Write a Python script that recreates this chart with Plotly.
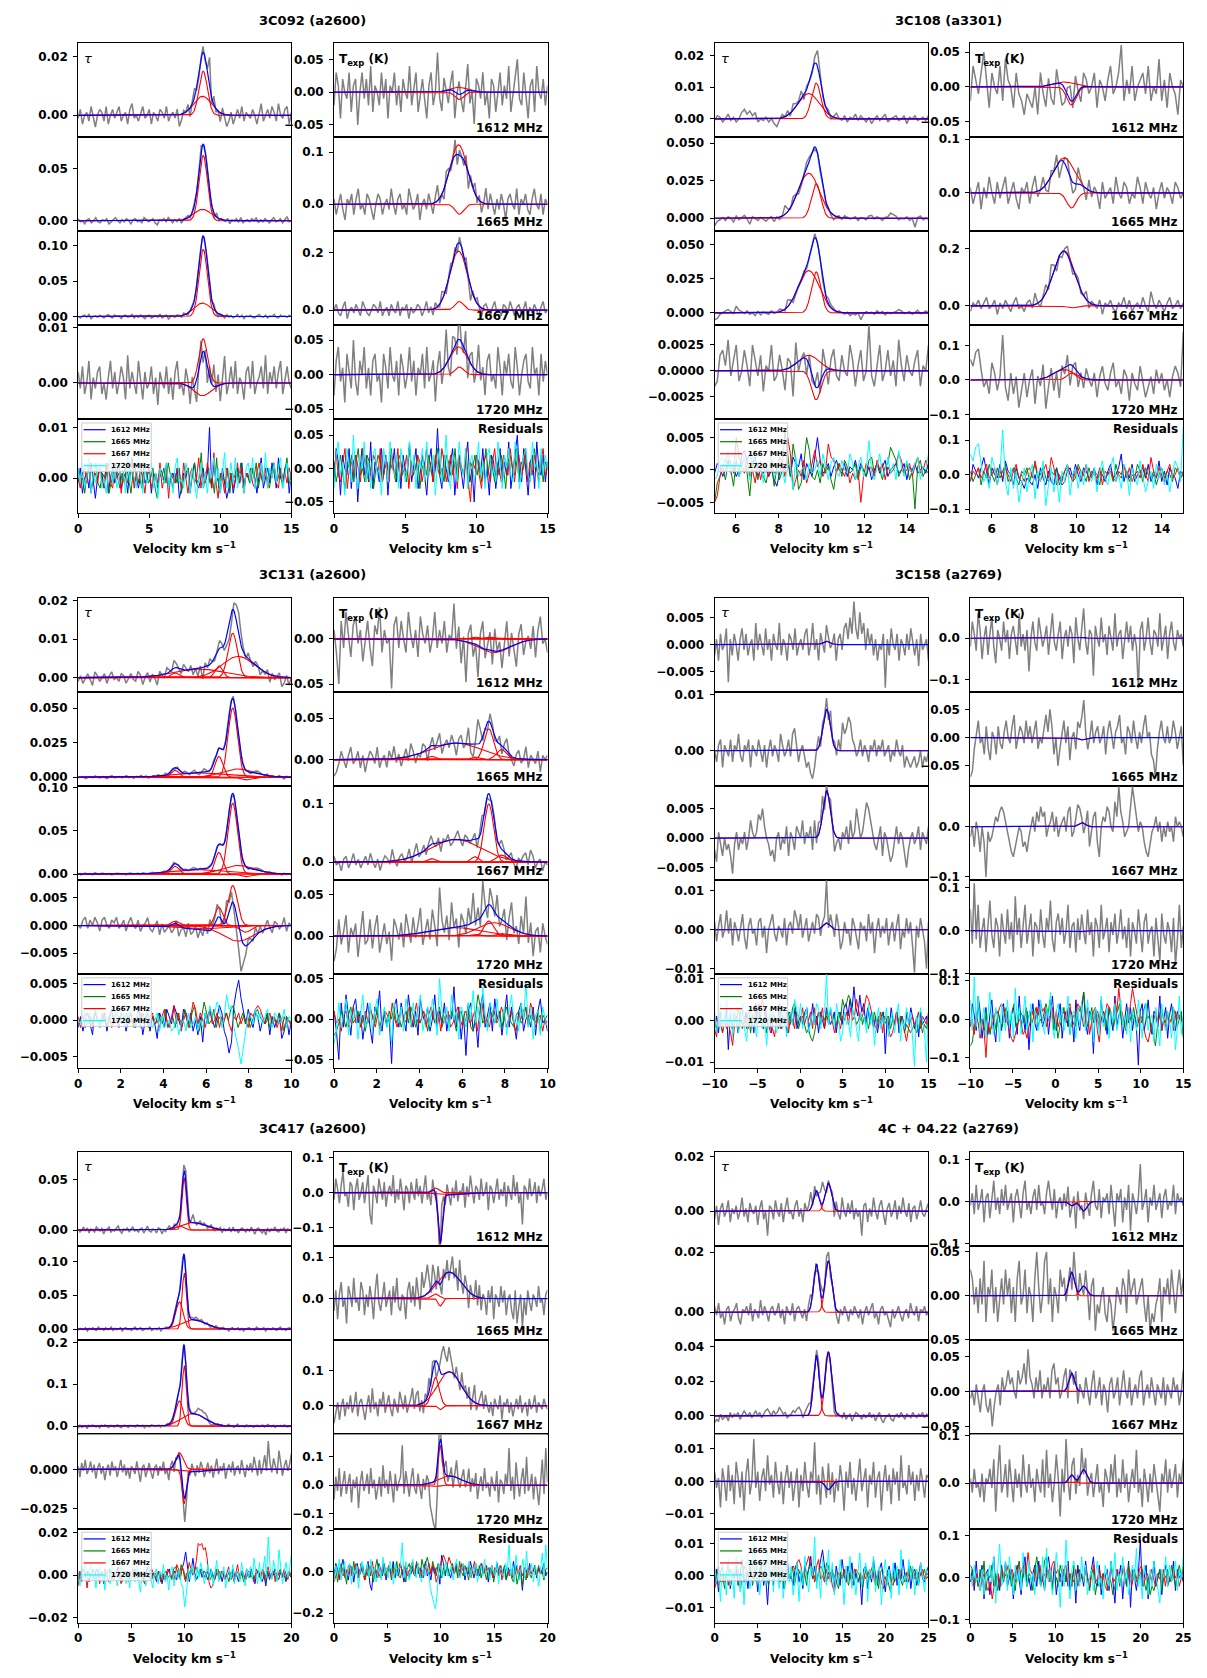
import numpy as np
import plotly.graph_objects as go

FREQS = ["1612", "1665", "1667", "1720"]
RES_COLOURS = ["blue", "green", "red", "cyan"]

# ---------------- 3C092 (a2600) ----------------
S092_NAME = "3C092 (a2600)"
S092_VRANGE = [0, 15]
S092_VTICKS = [0, 5, 10, 15]
S092_CENTRE = [8.8, 8.75]
S092_WIDTH = [0.30, 0.62]
S092_TAU_AMP = [[0.0150, 0.0065], [0.063, 0.011], [0.095, 0.019], [0.0080, -0.0023]]
S092_TEX_AMP = [[-0.011, 0.0075], [-0.019, 0.114], [0.030, 0.205], [0.011, 0.040]]
S092_TAU_UNIT = 0.001
S092_TEX_UNIT = 0.01
S092_TAU_RES_1612 = [-1,2,-3,0,1,-2,3,-1,-4,0,2,1,-2,3,-3,0,2,-1,1,3,-2,0,1,-3,2,4,-1,0,-2,1,3,-1,0,2,-3,1,0,-2,2,1,-1,3,-2,0,1,-1,2,-4,-2,1,0,2,-3,1,3,-1,-2,0,2,-1,1,10,-2,3,-1,0,-3,2,-1,-4,-2,1,-3,0,2,-1,3,-2,1,0,-1,2,0,-3,1,4,-2,0,2,-1,3,1,-2,4,0,-1,2,3,-3,1]
S092_TAU_RES_1665 = [2,-1,0,-3,1,2,-2,0,3,-1,-2,1,0,2,-3,-1,1,3,0,-2,1,-1,2,0,-3,1,2,-1,0,-2,3,1,-1,0,2,-2,-4,1,0,2,-1,3,0,-2,1,-1,2,-3,0,1,2,-2,1,3,-1,0,5,-2,1,2,-1,0,-3,4,-2,1,0,-1,2,-3,1,0,2,-1,3,-2,0,1,-1,2,0,3,-2,1,-1,2,0,-2,1,3,-1,0,2,-2,1,4,-1,0]
S092_TAU_RES_1667 = [0,-2,1,2,-1,3,-3,0,1,-1,2,0,-2,1,3,-1,-2,2,0,1,-3,1,2,-1,0,3,-2,1,-1,2,0,-3,1,2,-2,0,1,-1,3,-2,0,2,-4,1,0,-1,2,1,-2,3,0,-3,1,2,-1,0,4,-2,1,-1,3,0,-2,5,-1,-4,1,0,-3,2,-1,1,-2,0,3,-1,2,-3,1,0,2,-1,-2,1,3,0,-1,2,-2,1,0,3,-1,-2,2,0,1,-1,2,0]
S092_TAU_RES_1720 = [2,-1,3,-2,0,4,-3,1,-1,2,3,-2,0,-3,1,4,-1,2,-2,0,3,1,-3,5,-1,2,0,-2,4,1,-3,2,-1,0,3,-2,1,-4,2,0,-1,3,-2,1,-3,2,4,-1,0,-2,3,1,-3,2,-1,-4,0,3,-2,1,-3,2,0,4,-1,2,-3,1,5,-2,0,3,-1,4,-2,1,0,-3,2,3,-1,4,-2,0,1,3,-1,5,-2,2,0,3,-1,2,4,-2,1,3,0,-1]
S092_TEX_RES_1612 = [-2,3,1,-4,2,0,-1,3,-3,1,2,-5,0,3,-1,2,-2,4,-3,1,0,-2,3,-1,2,-4,1,0,3,-2,1,-3,2,0,-1,4,-2,1,3,-3,0,2,-1,-4,1,3,-2,0,6,-1,-3,2,0,-2,1,3,-4,0,2,-1,-3,1,4,-2,0,-5,2,1,-1,3,-2,0,-4,2,1,-3,0,3,-2,1,-1,4,-3,0,2,5,-1,-2,3,0,-4,1,2,-3,4,0,-1,2,-2,1]
S092_TEX_RES_1665 = [1,-2,0,2,-1,-3,1,0,2,-2,1,3,-1,0,-2,2,1,-1,-3,0,2,1,-2,0,1,-1,3,0,-2,1,2,-1,0,-2,3,1,-1,0,2,-3,0,1,-1,2,0,-2,1,3,-1,0,-2,2,1,-1,0,3,-2,1,0,-1,2,-3,1,0,2,-1,1,-2,0,3,-1,2,0,-2,1,-1,2,0,-3,1,2,0,-1,3,-2,1,0,2,-1,-2,1,3,0,-1,2,-2,1,0]
S092_TEX_RES_1667 = [0,2,-1,-2,1,3,-3,0,1,-1,2,0,-2,3,1,-1,-2,0,2,1,-1,3,-2,0,1,-2,2,0,-1,3,-2,1,0,2,-3,1,-1,0,2,1,-2,0,3,-1,1,-2,2,0,-1,3,1,-2,0,2,-1,1,-3,2,0,-1,3,-2,-5,1,0,2,-1,-3,1,2,0,-2,1,3,-1,0,-2,2,1,-1,3,0,-2,1,2,-1,0,3,-2,1,-1,2,0,-2,1,3,-1,0]
S092_TEX_RES_1720 = [-3,2,4,-1,1,-4,3,0,-2,5,-1,-3,2,0,4,-2,1,-3,2,3,-1,0,-4,3,1,-2,4,0,-1,2,-3,3,1,-2,0,4,-1,2,-3,1,0,3,-2,4,-1,0,2,-4,1,3,-2,0,5,-1,-3,2,1,-2,4,0,-1,3,-3,1,2,-2,0,4,-1,1,-3,2,3,-1,0,-2,4,1,-3,2,0,3,-1,-2,4,1,-3,0,2,3,-1,-2,4,0,1,-3,3,-1,2,0]
S092_TAU_LIM = [[-0.0075, 0.0246], [-0.0102, 0.0806], [-0.0125, 0.1206], [-0.0066, 0.01045], [-0.0070, 0.0116]]
S092_TAU_TICKS = [["0.00", "0.02"], ["0.00", "0.05"], ["0.00", "0.05", "0.10"], ["0.00", "0.01"], ["0.00", "0.01"]]
S092_TEX_LIM = [[-0.0687, 0.0747], [-0.052, 0.1286], [-0.053, 0.274], [-0.0646, 0.0712], [-0.0673, 0.0737]]
S092_TEX_TICKS = [["−0.05", "0.00", "0.05"], ["0.0", "0.1"], ["0.0", "0.2"], ["−0.05", "0.00", "0.05"], ["−0.05", "0.00", "0.05"]]

# ---------------- 3C108 (a3301) ----------------
S108_NAME = "3C108 (a3301)"
S108_VRANGE = [5, 15]
S108_VTICKS = [6, 8, 10, 12, 14]
S108_CENTRE = [9.4, 9.75]
S108_WIDTH = [0.50, 0.22]
S108_TAU_AMP = [[0.008, 0.0113], [0.030, 0.023], [0.031, 0.030], [0.0015, -0.0028]]
S108_TEX_AMP = [[0.007, -0.026], [0.065, -0.028], [0.193, -0.007], [0.030, 0.020]]
S108_TAU_UNIT = 0.0005
S108_TEX_UNIT = 0.01
S108_TAU_RES_1612 = [-1,2,1,-2,0,3,-1,1,-2,0,4,6,3,5,2,4,-2,0,-1,1,-2,0,-3,-5,-1,2,0,3,-2,4,2,1,5,-3,2,0,-2,4,10,3,-1,0,2,-2,1,3,0,-1,2,-2,1,0,3,-1,2,0,-2,1,-3,0,2,-1,1,3,-2,0,1,2,-1,0,2,-3,1,0,2,-1,0,1,-1,2]
S108_TAU_RES_1665 = [-10,-4,-2,1,-3,2,0,-5,3,-2,1,4,-1,-8,2,0,-3,1,-2,-4,0,2,-5,1,-3,0,12,4,-2,8,3,-6,-4,2,10,6,-2,-3,0,-4,2,-1,1,-3,-6,0,2,-2,3,1,-1,0,2,-3,1,0,-2,3,4,-1,2,0,-3,1,2,7,5,3,-2,0,-1,2,-3,0,-12,1,3,-2,0,-1]
S108_TAU_RES_1667 = [-10,-8,-2,1,3,5,2,-1,10,4,2,-1,3,-2,0,-4,2,-3,1,0,-2,3,-1,0,4,2,-2,10,5,-6,-3,0,-2,3,-4,-1,2,6,1,3,-2,0,8,4,3,-1,2,0,-2,1,-4,-1,-3,0,-10,-2,2,0,1,-2,3,0,2,-3,1,-1,0,2,5,3,-1,0,2,-2,1,4,-1,0,3,0]
S108_TAU_RES_1720 = [-3,-2,3,4,1,6,-1,2,5,-2,0,4,1,-3,5,2,-1,3,-4,1,0,5,-2,-1,3,0,-4,2,1,-6,4,-2,0,1,-3,2,-1,0,3,-2,5,1,-3,2,4,-1,-2,3,0,-1,5,2,-3,1,4,-2,0,9,-1,-3,1,5,-2,0,4,-1,2,-3,6,1,-2,3,0,-1,2,4,-3,1,0,5]
S108_TEX_RES_1612 = [-2,3,1,-1,2,5,1,-3,2,0,-1,3,-2,4,1,0,-3,2,-1,-2,-4,-1,-2,-3,0,-4,2,-1,-3,1,-2,-3,2,-1,-3,-2,1,2,-1,3,0,-2,2,1,-1,0,2,-3,1,0,-2,1,3,-1,0,2,6,-2,1,-1,3,-2,0,1,2,-1,3,-2,0,-1,4,-2,1,-3,2,0,-1,-4,1,0]
S108_TEX_RES_1665 = [1,-2,0,2,-3,1,-1,3,0,-2,2,-1,1,3,-2,0,2,-1,-3,1,0,2,-2,1,3,-1,0,2,-1,-2,1,0,2,-3,-1,1,2,0,-2,-1,3,1,0,-2,2,-1,1,0,-3,2,-1,0,1,-2,3,0,-1,2,1,-2,0,-1,3,1,-2,2,0,-1,1,-3,0,2,-1,1,0,-2,2,1,-1,0]
S108_TEX_RES_1667 = [-2,1,0,2,-1,1,3,-1,0,2,-3,1,-1,2,0,-2,1,3,-1,0,-2,1,2,-1,4,0,-2,1,3,-1,5,2,-3,0,-2,1,3,0,-2,1,2,-1,0,3,-2,1,0,-1,2,-3,1,0,2,-1,-2,1,0,3,-1,2,-2,0,1,-1,3,0,-2,5,1,-1,2,0,-2,1,3,-1,0,2,-1,1]
S108_TEX_RES_1720 = [6,4,8,9,3,-2,0,-4,5,2,-3,1,13,-2,-6,2,-4,1,-8,-3,2,-5,0,3,-7,1,-2,4,-9,-3,2,-5,0,-8,1,-2,3,-6,0,2,-4,1,-3,3,0,-2,2,-5,1,4,-1,-3,2,5,-2,0,-4,3,1,-6,2,-1,-3,4,0,-5,-2,1,-4,3,-1,2,-3,0,-5,1,4,2,-2,14]
S108_TAU_LIM = [[-0.0058, 0.0239], [-0.0087, 0.054], [-0.0091, 0.0598], [-0.0047, 0.0044], [-0.0067, 0.0078]]
S108_TAU_TICKS = [["0.00", "0.01", "0.02"], ["0.000", "0.025", "0.050"], ["0.000", "0.025", "0.050"], ["−0.0025", "0.0000", "0.0025"], ["−0.005", "0.000", "0.005"]]
S108_TEX_LIM = [[-0.0723, 0.0627], [-0.0712, 0.1033], [-0.068, 0.2607], [-0.114, 0.158], [-0.1127, 0.1606]]
S108_TEX_TICKS = [["−0.05", "0.00", "0.05"], ["0.0", "0.1"], ["0.0", "0.2"], ["−0.1", "0.0", "0.1"], ["−0.1", "0.0", "0.1"]]

# ---------------- 3C131 (a2600) ----------------
S131_NAME = "3C131 (a2600)"
S131_VRANGE = [0, 10]
S131_VTICKS = [0, 2, 4, 6, 8, 10]
S131_CENTRE = [4.55, 5.7, 6.6, 7.25, 7.5, 7.85]
S131_WIDTH = [0.18, 1.2, 0.18, 0.22, 0.75, 0.25]
S131_TAU_AMP = [[0.0012, 0.0022, 0.0030, 0.0115, 0.0055, 0.0],
                [0.005, 0.003, 0.015, 0.050, 0.006, -0.002],
                [0.009, 0.005, 0.025, 0.082, 0.010, -0.003],
                [0.0008, -0.0006, 0.0033, 0.0072, -0.0028, -0.0012]]
S131_TEX_AMP = [[0.0, 0.0, 0.002, 0.002, -0.015, 0.001],
                [0.004, 0.020, 0.003, 0.037, 0.0, 0.012],
                [0.006, 0.039, 0.009, 0.100, 0.0, 0.012],
                [0.0, 0.010, 0.002, 0.018, 0.016, 0.003]]
S131_TAU_UNIT = 0.0005
S131_TEX_UNIT = 0.005
S131_TAU_RES_1612 = [-2,1,-3,0,2,-1,-4,3,1,-2,0,2,-3,1,3,-1,0,-2,2,1,-3,0,2,-1,-2,3,1,-4,0,2,-3,1,-1,-5,2,0,-2,3,1,-1,4,2,0,-2,3,1,-1,2,-3,0,-4,1,-6,2,-1,3,0,-2,1,4,2,-3,-5,-9,-6,4,8,11,6,2,-1,3,0,-2,2,1,-3,0,-1,2,-4,1,-2,0,2,-5,-3,1,-4,0]
S131_TAU_RES_1665 = [-1,0,1,-2,0,1,-1,2,0,-1,1,0,-2,1,2,-1,0,1,-1,0,2,-1,0,-2,1,0,2,-1,1,-2,0,1,-1,2,0,-1,3,-2,0,1,-2,2,0,-1,3,1,-2,2,4,-1,-3,1,5,2,-1,0,3,-2,1,0,-1,2,0,3,4,1,-2,0,2,-1,1,-2,0,2,3,1,0,-1,2,-2,1,0,-1,2,0,-3,1,0,-1]
S131_TAU_RES_1667 = [1,-2,0,2,-1,1,-2,3,0,-1,2,0,-1,1,-2,0,2,1,-1,0,-2,1,2,-1,0,1,-2,2,0,-1,1,2,-1,0,-2,1,3,0,-2,1,4,-1,2,-3,0,2,-2,1,5,3,-1,2,0,-2,1,3,-1,0,2,-2,1,0,2,-1,-3,1,0,2,-1,1,0,-2,2,1,3,4,3,1,-1,0,2,-1,1,-2,0,-3,1,-1,0,-2]
S131_TAU_RES_1720 = [0,-1,2,3,-1,2,0,3,1,-2,2,3,0,-1,2,1,3,-1,0,2,-2,1,3,0,-1,2,-2,0,1,3,-1,-2,0,2,-3,1,-2,-1,0,-3,-2,1,-4,-1,0,-3,2,-2,-1,1,-3,0,-2,2,-1,4,1,2,5,3,-2,1,7,3,4,-2,-5,-8,-12,-7,-3,2,1,-1,3,0,2,-1,1,3,0,-2,2,1,-1,0,3,-2,1,0]
S131_TEX_RES_1612 = [2,-3,-10,4,-2,6,1,-4,3,5,-1,2,-5,0,4,-2,-6,3,1,7,-3,2,-1,0,-11,3,5,-2,4,0,-3,6,1,-2,2,-4,5,1,-1,3,-3,0,6,-2,2,-1,4,-3,1,0,8,-2,3,-5,1,-9,2,4,-3,0,-7,3,6,-2,1,4,-3,5,0,2,-4,1,6,-2,3,-1,-5,2,4,-3,0,1,-2,3,-4,2,5,-1,0,-3]
S131_TEX_RES_1665 = [-4,-3,-1,2,0,-2,1,3,-1,0,2,-2,1,-3,0,2,1,-1,3,-2,0,1,-2,2,0,3,-1,1,-2,0,2,-1,3,1,-2,0,-1,2,1,-3,0,2,-1,1,3,-2,0,1,-1,2,0,-3,1,2,-1,0,4,-2,-3,1,6,3,-1,0,-2,2,1,-1,0,2,-2,1,3,0,-1,-2,1,2,-1,0,3,-2,1,0,-1,2,-3,1,0,1]
S131_TEX_RES_1667 = [2,-1,0,-3,1,2,-2,0,3,-1,1,-2,0,2,-1,3,0,-2,1,-3,0,2,1,-1,4,0,-2,1,2,-1,0,3,-2,1,4,-1,0,2,-2,1,3,0,-1,2,-3,1,0,2,-2,-1,1,3,0,-2,2,1,-1,0,2,-3,1,4,-1,0,-2,1,2,-1,0,3,1,-2,0,2,-1,-3,1,0,2,3,-1,4,2,-2,0,1,-3,0,-1]
S131_TEX_RES_1720 = [-6,-3,4,-2,1,5,-4,2,0,3,-5,1,6,-2,-1,4,-3,2,5,-4,0,3,-2,1,-6,4,2,-1,3,-3,5,1,-2,4,-1,2,6,-3,0,3,-2,5,1,-4,10,2,-1,3,-3,6,0,2,-5,3,1,-2,4,0,7,-1,3,-2,8,1,-3,4,2,-1,5,-2,0,3,-4,2,6,-1,1,-3,4,0,9,-2,3,-5,1,2,-4,3,0,-2]
S131_TAU_LIM = [[-0.0037, 0.0207], [-0.0064, 0.0617], [-0.0071, 0.102], [-0.0088, 0.0082], [-0.0066, 0.0063]]
S131_TAU_TICKS = [["0.00", "0.01", "0.02"], ["0.000", "0.025", "0.050"], ["0.00", "0.05", "0.10"], ["−0.005", "0.000", "0.005"], ["−0.005", "0.000", "0.005"]]
S131_TEX_LIM = [[-0.0587, 0.0457], [-0.0318, 0.0815], [-0.031, 0.1307], [-0.0458, 0.067], [-0.061, 0.0554]]
S131_TEX_TICKS = [["−0.05", "0.00"], ["0.00", "0.05"], ["0.0", "0.1"], ["0.00", "0.05"], ["−0.05", "0.00", "0.05"]]

# ---------------- 3C158 (a2769) ----------------
S158_NAME = "3C158 (a2769)"
S158_VRANGE = [-10, 15]
S158_VTICKS = [-10, -5, 0, 5, 10, 15]
S158_CENTRE = [3.1]
S158_WIDTH = [0.42]
S158_TAU_AMP = [[0.0006], [0.0074], [0.0080], [0.0017]]
S158_TEX_AMP = [[0.002], [-0.004], [0.008], [-0.002]]
S158_TAU_UNIT = 0.001
S158_TEX_UNIT = 0.01
S158_TAU_RES_1612 = [-2,1,-3,2,-1,0,3,-7,1,-2,2,0,-3,1,3,-1,2,-2,0,1,-3,4,-1,2,0,-2,3,-1,1,-3,2,0,-1,4,-2,1,0,-3,2,1,-1,3,-2,0,1,-1,2,3,-2,0,4,-1,1,-3,2,0,-2,3,1,-1,0,2,-3,1,2,-1,3,4,1,5,2,8,3,1,6,2,4,-1,3,0,2,-2,1,-3,0,-1,2,-8,1,-2,3,0,-1,2,-3,1,0,-2,2,-1,3,0,-2,1,-4,2,-1,0,1,-3]
S158_TAU_RES_1665 = [0,-2,1,2,-3,1,0,-1,2,-2,1,0,3,-1,-2,1,0,2,-3,1,0,-1,2,0,-2,1,-3,0,2,-1,1,0,-2,3,1,-1,0,2,-1,3,4,1,-2,0,1,-1,-3,-2,-4,-5,-3,0,2,-1,1,0,2,-1,3,0,1,-1,2,0,5,3,4,6,5,2,1,-1,0,2,-1,1,0,-2,1,0,2,-1,1,0,2,-1,0,1,-2,0,-1,2,0,-1,1,-3,-1,-2,-3,-2,-1,-3,-2,0,-3,-1,-2,0]
S158_TAU_RES_1667 = [-2,-4,1,-1,-3,0,-2,-1,-3,-6,-1,1,-2,0,-1,1,-2,0,3,1,0,1,4,3,5,2,0,-1,-3,-2,-4,0,1,-2,0,-1,2,-3,1,0,-2,2,1,0,3,-1,1,0,2,-2,3,-1,2,1,3,-2,1,0,2,-1,-3,-1,0,-2,1,0,2,-1,3,0,1,5,2,0,1,4,6,5,3,1,-1,-2,0,2,-3,1,0,-2,-4,-3,0,2,-1,1,0,-3,-5,-2,0,1,-1,0,2,-2,1,0,-1,2]
S158_TAU_RES_1720 = [2,-3,1,4,-2,0,5,-1,3,-4,2,0,-3,1,4,-2,-5,1,3,-1,0,-4,2,3,-2,1,-6,0,2,4,-1,-3,1,0,-2,3,-4,1,2,-1,5,3,0,4,-2,1,3,-3,0,2,-1,4,3,-2,1,2,11,-1,3,0,-2,4,1,-5,-3,2,-1,0,-4,3,1,-2,-5,2,0,1,-3,4,-1,2,-6,0,3,-2,1,-1,3,-4,0,2,-3,1,4,-5,0,-2,3,-1,2,-4,-11,1,-2,3,0,-3,-10,2]
S158_TEX_RES_1612 = [-2,4,1,-3,6,2,-5,0,3,-4,1,5,-2,-6,2,0,-3,4,-1,2,-5,1,3,0,-4,6,-2,1,-3,2,-8,0,4,-1,-3,5,1,-2,0,3,-4,2,6,-1,-3,1,4,-5,0,2,-2,3,1,-6,5,0,-3,2,7,-1,-4,2,1,-9,3,0,-2,5,-1,1,-4,3,0,-3,6,-2,1,2,-5,0,4,-1,3,-3,1,-2,-12,2,4,-3,0,5,-1,-4,2,1,-2,6,-3,0,3,-5,1,4,-1,-3,2,0,1,-2]
S158_TEX_RES_1665 = [-7,-6,-2,1,3,-1,0,-3,2,-2,-4,1,0,-3,2,-1,-2,1,3,0,-1,2,4,-2,0,2,1,-1,3,0,2,-1,1,3,-2,0,-1,2,4,1,5,2,-3,0,-5,-2,1,3,-1,2,-4,0,1,-2,3,2,4,7,1,-2,0,3,-1,1,2,-1,0,2,-3,1,3,0,-2,1,2,4,-1,0,-3,2,1,-1,3,0,-2,1,-1,2,4,0,1,-3,-4,-7,-2,1,3,0,-1,2,-1,0,3,1,-2,0,2,-5]
S158_TEX_RES_1667 = [-2,0,-4,1,-1,-5,0,-3,-10,-1,-3,-2,0,2,1,3,4,3,1,-1,-3,-5,-6,-4,-2,0,-1,-4,-3,-5,-2,0,2,-1,3,1,4,2,3,-2,0,1,3,-1,2,-2,0,1,2,-1,3,4,-2,-1,2,4,3,1,-2,0,3,-4,-1,2,3,-3,-6,0,2,1,4,3,0,-1,5,2,8,3,1,-2,-1,0,4,8,5,2,-1,1,0,-3,-5,-6,-3,-1,0,2,-1,1,-3,0,-2,1,-1,0,-3,2,0,1,0,-2]
S158_TEX_RES_1720 = [5,-3,11,-2,6,-4,0,3,-5,2,7,-1,-4,3,1,-6,4,0,-3,5,-2,2,-5,8,-1,3,-4,1,6,-3,0,4,-6,2,1,-3,5,-1,-4,3,0,7,-2,-5,2,4,-1,3,-3,0,6,-4,1,2,-5,3,-2,4,0,-3,5,-1,2,-6,3,1,-4,6,-2,0,3,-5,2,-1,4,-3,0,5,-2,1,-4,3,-6,2,0,-3,5,-1,-5,2,4,-3,0,1,-6,3,-2,-7,4,-1,-3,2,0,-5,3,-8,-2,6,-4,1]
S158_TAU_LIM = [[-0.0088, 0.0087], [-0.0063, 0.0105], [-0.0071, 0.0088], [-0.0114, 0.0127], [-0.0115, 0.011]]
S158_TAU_TICKS = [["−0.005", "0.000", "0.005"], ["0.00", "0.01"], ["−0.005", "0.000", "0.005"], ["−0.01", "0.00", "0.01"], ["−0.01", "0.00", "0.01"]]
S158_TEX_LIM = [[-0.129, 0.0974], [-0.0858, 0.0808], [-0.1065, 0.0812], [-0.1012, 0.1175], [-0.1286, 0.1165]]
S158_TEX_TICKS = [["−0.1", "0.0"], ["−0.05", "0.00", "0.05"], ["−0.1", "0.0"], ["−0.1", "0.0", "0.1"], ["−0.1", "0.0", "0.1"]]

# ---------------- 3C417 (a2600) ----------------
S417_NAME = "3C417 (a2600)"
S417_VRANGE = [0, 20]
S417_VTICKS = [0, 5, 10, 15, 20]
S417_CENTRE = [9.5, 9.95, 10.8]
S417_WIDTH = [0.35, 0.20, 1.1]
S417_TAU_AMP = [[0.004, 0.052, 0.0075], [0.040, 0.083, 0.014], [0.060, 0.145, 0.030], [0.0105, -0.022, -0.0015]]
S417_TEX_AMP = [[0.013, -0.145, -0.006], [0.011, -0.018, 0.064], [0.080, -0.011, 0.097], [-0.004, 0.140, 0.033]]
S417_TAU_UNIT = 0.001
S417_TEX_UNIT = 0.01
S417_TAU_RES_1612 = [1,-2,0,3,-1,2,-3,1,0,-2,3,1,-1,2,-4,0,1,3,-2,0,-1,2,4,-1,-3,1,0,2,-2,1,3,-1,0,-2,1,2,-3,0,4,-1,-2,1,0,-3,2,1,-4,0,-2,1,3,-1,0,2,-2,1,-1,3,6,11,5,-3,2,8,1,-2,0,3,-1,2,1,-2,0,3,-1,-2,1,0,2,-3,1,-1,0,2,-2,3,-1,0,-3,1,2,0,-2,1,-1,3,0,-4,1,2,-1,-3,0,-5,2,-2,1,0,3,-1,-2,1,0,2,-3,1,0,-1]
S417_TAU_RES_1665 = [-2,1,0,-1,2,-3,1,0,2,-1,-2,3,0,1,-2,2,-1,0,3,-2,1,-1,0,2,-3,1,2,-1,0,-2,1,3,-1,0,2,-2,-1,1,0,3,-2,0,1,-1,2,-3,0,1,2,-1,0,-2,3,4,2,-1,5,3,-2,1,0,2,3,1,4,2,0,3,1,-1,2,0,-2,1,-1,3,0,-2,1,2,-1,0,-3,1,2,-1,0,2,-2,1,-3,0,1,2,-1,0,-2,3,1,-1,0,2,-3,1,0,-1,2,0,-2,1,3,-1,0,-2,1,2,-1]
S417_TAU_RES_1667 = [-5,2,-3,0,1,-6,2,-1,3,0,-2,1,-4,2,0,3,-1,-3,2,1,-2,0,3,-1,-4,1,2,0,-3,2,1,-1,-2,3,0,-1,2,-4,1,0,-2,3,1,-1,0,2,-3,1,-2,0,3,1,-1,2,-2,5,3,-2,4,2,-3,1,6,3,0,2,7,15,14,15,12,13,8,-3,-6,-5,-2,1,3,-1,2,0,-2,1,4,-1,0,-3,2,5,-1,1,0,-2,3,-1,2,0,-3,1,2,-1,0,3,-2,1,4,0,-1,2,-3,1,0,2,-1,3,0,-2,1,0]
S417_TAU_RES_1720 = [2,-5,4,-1,6,-3,0,5,-2,3,-6,1,4,-3,2,-7,0,3,-4,5,-1,2,-5,0,6,-2,3,-4,1,-6,2,0,-3,5,-2,-8,1,3,-5,0,4,-2,-6,1,3,-4,2,-1,5,-3,0,-7,2,4,-5,1,-2,3,-4,-6,-15,-8,3,-2,5,1,-3,4,-1,6,2,-4,0,5,-2,3,-5,1,7,-3,2,-1,4,-6,0,3,-2,5,-4,1,2,-3,6,0,-5,3,-1,4,-2,8,1,-4,6,-3,2,9,-1,18,4,-2,7,1,-3,12,5,-4,2,6,-1,3,10]
S417_TEX_RES_1612 = [-2,4,1,-3,2,6,-1,0,-4,3,2,-5,1,4,-2,0,3,-3,1,5,-6,-9,2,0,-3,4,1,-2,3,-4,0,2,-1,5,-3,1,-2,4,0,-5,2,1,-3,3,0,-2,4,-1,2,-3,1,5,-2,0,-4,3,-1,2,1,-6,8,4,-2,3,0,-3,2,-1,4,-2,1,0,3,-4,2,-1,5,0,-3,2,1,-2,4,-1,0,3,-5,2,1,-3,0,4,-2,1,-1,3,-4,2,0,-2,5,-1,3,-3,0,-9,2,1,-2,4,-1,0,3,-3,2,-1,1,4,-2,0]
S417_TEX_RES_1665 = [-3,2,-5,1,4,-2,0,-6,3,1,-2,5,-1,0,-3,4,2,-4,1,-2,3,0,-5,2,6,-1,-3,1,4,-2,0,2,-4,3,-1,5,-2,-3,1,0,-5,2,4,-1,3,-2,5,1,-3,6,2,4,7,3,-1,5,2,-2,4,0,-3,2,-1,3,-2,1,4,-1,2,-3,5,0,-2,3,1,-4,2,0,-1,4,-2,3,-3,1,0,-4,2,-1,3,-5,1,0,-2,3,-1,2,-4,0,1,-3,-5,2,-6,-2,1,-7,0,-4,2,-1,-3,1,0,-2,3,-1,0,-4,1,2]
S417_TEX_RES_1667 = [-5,-2,1,-4,0,2,-3,1,-1,3,-2,0,4,-3,1,2,-1,-4,0,3,-2,5,-1,1,-3,2,0,4,-2,1,3,-1,-3,2,0,-2,4,1,-1,3,-2,0,2,5,-1,3,4,-2,1,-3,2,0,4,-1,3,1,-5,-2,2,6,8,5,3,7,4,2,-1,3,1,-2,4,0,2,-1,3,-3,1,5,-2,0,2,4,-1,3,0,-2,1,-3,2,0,-1,3,-4,1,0,2,-2,1,-3,0,2,-1,3,-2,0,1,-3,2,-1,0,3,-2,1,0,-1,2,0,-1]
S417_TEX_RES_1720 = [-5,3,-2,6,-4,1,5,-3,0,4,-6,2,-1,3,-8,1,5,-2,0,4,-3,6,-1,2,-5,0,3,-4,7,-1,2,-3,5,0,-6,4,-2,1,3,14,-3,5,0,-4,2,6,-1,-3,4,0,-5,2,-2,3,1,-8,-12,-15,-18,-10,4,2,-3,1,5,-2,0,3,-4,2,6,-1,-3,1,4,-2,0,5,-3,2,-1,4,-5,0,3,-2,6,-1,1,-4,3,0,-2,5,-6,2,1,-3,4,0,13,-2,3,-5,8,1,-4,2,6,-3,10,-2,0,4,-5,3,-1,-7,2,9,-3,13,1]
S417_TAU_LIM = [[-0.0159, 0.0776], [-0.0165, 0.1227], [-0.0197, 0.205], [-0.0379, 0.0223], [-0.0224, 0.022]]
S417_TAU_TICKS = [["0.00", "0.05"], ["0.00", "0.05", "0.10"], ["0.0", "0.1", "0.2"], ["−0.025", "0.000"], ["−0.02", "0.00", "0.02"]]
S417_TEX_LIM = [[-0.1515, 0.116], [-0.1007, 0.127], [-0.0817, 0.187], [-0.1516, 0.178], [-0.2465, 0.2087]]
S417_TEX_TICKS = [["−0.1", "0.0", "0.1"], ["0.0", "0.1"], ["0.0", "0.1"], ["−0.1", "0.0", "0.1"], ["−0.2", "0.0", "0.2"]]

# ---------------- 4C +04.22 (a2769) ----------------
S4C_NAME = "4C + 04.22 (a2769)"
S4C_VRANGE = [0, 25]
S4C_VTICKS = [0, 5, 10, 15, 20, 25]
S4C_CENTRE = [11.9, 13.3]
S4C_WIDTH = [0.33, 0.38]
S4C_TAU_AMP = [[0.0075, 0.0103], [0.016, 0.017], [0.035, 0.037], [0.0, -0.0025]]
S4C_TEX_AMP = [[-0.010, -0.022], [0.027, 0.011], [0.026, 0.0], [0.017, 0.028]]
S4C_TAU_UNIT = 0.001
S4C_TEX_UNIT = 0.01
S4C_TAU_RES_1612 = [-3,2,-5,1,3,-2,0,4,-4,1,-1,2,-3,0,5,-2,1,-4,3,0,-1,2,-5,1,4,-3,0,-9,2,1,-3,4,0,-2,3,-4,1,5,-1,0,-3,2,4,-2,1,-4,3,0,2,6,-1,3,-2,1,4,8,3,-2,1,0,2,-4,3,-1,-3,5,0,-2,3,-1,4,-3,1,-2,0,-9,2,3,-4,1,-2,5,0,-3,2,4,-1,-5,1,3,-2,0,4,-3,2,-1,5,0,-2,3,-4,1,2,-3,0,4,-1,-2,1,3]
S4C_TAU_RES_1665 = [2,-1,3,-2,0,-4,1,2,-3,0,1,3,-2,-4,1,0,2,-1,3,-3,1,0,-2,4,-1,2,0,-3,1,2,-1,0,3,-2,1,-4,2,0,-1,3,-3,1,2,0,-2,1,-3,2,4,-1,0,-2,1,3,2,-1,4,3,-2,1,0,-2,-4,1,-1,2,0,-3,1,-1,2,0,-2,1,-4,0,2,-1,1,3,-2,0,-4,1,2,-1,0,-3,-5,1,-2,0,2,-1,-3,0,1,-2,3,0,-1,2,-3,1,0,2,-1,0]
S4C_TAU_RES_1667 = [-4,-2,-3,1,-2,-1,0,-3,2,-1,1,0,2,-2,1,3,1,0,2,-1,1,3,0,2,-1,1,3,4,2,0,3,1,2,5,3,1,2,-1,0,1,3,2,4,5,3,-1,2,4,6,3,2,-2,3,5,-1,0,-2,2,-1,1,-3,-5,-2,1,0,-1,2,-2,0,1,-3,0,2,1,0,-2,1,-1,0,2,-1,1,-3,0,2,-2,-4,-1,0,1,-2,-3,0,1,-1,2,0,-2,1,0,-1,2,0,-1,1,0,2,-1,1,0]
S4C_TAU_RES_1720 = [3,-2,1,-8,4,0,-6,5,-3,2,-7,6,1,-5,3,-9,2,7,-4,0,13,-2,3,-6,1,4,-3,8,-1,2,-5,6,0,-4,3,-7,1,5,-2,3,-6,0,4,-8,2,-3,6,-1,-5,3,0,12,-4,2,-7,5,1,-3,8,-2,4,-6,1,-3,5,0,-9,3,-2,6,-4,1,-6,2,7,-3,0,4,-8,2,-1,6,-5,1,3,-9,0,5,-3,2,-7,4,-1,3,-6,8,-2,0,-4,5,-1,3,-6,2,-3,4,0,-5,2,1]
S4C_TEX_RES_1612 = [-1,2,-3,4,-2,0,3,-5,1,2,-4,0,5,-2,1,-3,3,-1,4,-2,0,2,-5,1,3,-1,-4,2,5,-2,0,-3,1,3,-2,4,-1,0,-3,2,5,1,-2,3,-4,0,1,-2,2,-1,4,-3,0,2,-6,3,-1,1,-2,4,0,-3,2,5,-1,-2,3,-4,1,0,2,-3,4,-1,-6,2,0,3,-5,1,-2,4,-7,2,0,-3,1,9,-2,0,3,-5,1,-1,4,-2,0,2,-4,1,3,-2,0,-1,4,-3,2,0,1,-1]
S4C_TEX_RES_1665 = [3,2,-1,1,-2,2,-1,4,-3,1,0,3,-2,1,-3,0,2,-1,3,0,2,-2,1,-3,2,4,-1,0,3,-2,1,0,-3,2,5,1,-2,0,4,5,-1,2,-3,1,0,-2,3,1,2,-1,0,1,-2,3,1,-1,2,0,-1,2,0,-3,1,2,-4,-1,-2,0,1,-2,-3,0,-1,-4,-2,1,0,-1,2,1,-2,3,0,1,2,-1,0,1,2,-1,-3,0,-4,-2,-3,-1,0,2,-3,1,0,2,-1,3,0,-2,1,3,0,2]
S4C_TEX_RES_1667 = [-1,0,-2,1,-1,-3,0,1,-2,-3,-1,-5,-2,0,1,-2,2,0,1,3,1,2,0,-1,3,1,2,4,1,6,2,1,-1,2,0,3,-1,1,0,2,-1,3,4,1,2,-1,0,2,3,-2,1,0,-1,2,-2,1,0,-1,2,0,-2,1,3,-1,0,2,-2,1,0,-3,1,2,-1,0,2,-2,1,3,0,-1,2,-2,0,1,-1,2,3,-2,0,1,-1,2,0,-2,1,0,-1,2,-2,1,0,-1,2,0,1,-2,0,3]
S4C_TEX_RES_1720 = [1,-2,3,-1,0,-3,2,-4,1,0,3,-1,5,-6,2,8,-2,0,4,-3,5,1,-4,3,-1,2,-3,6,0,-2,4,-1,1,-4,3,0,-2,5,-3,7,-1,2,-4,0,6,1,-7,3,-2,9,0,-5,2,4,-3,1,-2,5,-1,3,-4,0,2,-3,1,4,-2,0,-5,3,1,-2,4,0,6,-3,1,-2,5,-1,2,-4,0,3,-1,7,-2,1,-5,3,0,-4,2,-2,4,1,-3,-6,2,0,5,-2,3,-1,1,4,-3,2,0,5]
S4C_TAU_LIM = [[-0.0128, 0.0218], [-0.0093, 0.022], [-0.0107, 0.0437], [-0.0145, 0.0144], [-0.0146, 0.0146]]
S4C_TAU_TICKS = [["0.00", "0.02"], ["0.00", "0.02"], ["0.00", "0.02", "0.04"], ["−0.01", "0.00", "0.01"], ["−0.01", "0.00", "0.01"]]
S4C_TEX_LIM = [[-0.1064, 0.119], [-0.0508, 0.0568], [-0.0612, 0.0729], [-0.0955, 0.1022], [-0.1066, 0.1169]]
S4C_TEX_TICKS = [["−0.1", "0.0", "0.1"], ["−0.05", "0.00", "0.05"], ["−0.05", "0.00", "0.05"], ["0.0", "0.1"], ["−0.1", "0.0", "0.1"]]


def source(name, vrange, vticks, centre, width, tau_amp, tex_amp, tau_unit, tex_unit,
           tau_res, tex_res, tau_lim, tau_ticks, tex_lim, tex_ticks):
    return dict(name=name, vrange=vrange, vticks=vticks, centre=centre, width=width,
                cols=[dict(amp=tau_amp, unit=tau_unit, res=tau_res, lim=tau_lim, ticks=tau_ticks),
                      dict(amp=tex_amp, unit=tex_unit, res=tex_res, lim=tex_lim, ticks=tex_ticks)])


SOURCES = [
    source(S092_NAME, S092_VRANGE, S092_VTICKS, S092_CENTRE, S092_WIDTH, S092_TAU_AMP, S092_TEX_AMP,
           S092_TAU_UNIT, S092_TEX_UNIT,
           [S092_TAU_RES_1612, S092_TAU_RES_1665, S092_TAU_RES_1667, S092_TAU_RES_1720],
           [S092_TEX_RES_1612, S092_TEX_RES_1665, S092_TEX_RES_1667, S092_TEX_RES_1720],
           S092_TAU_LIM, S092_TAU_TICKS, S092_TEX_LIM, S092_TEX_TICKS),
    source(S108_NAME, S108_VRANGE, S108_VTICKS, S108_CENTRE, S108_WIDTH, S108_TAU_AMP, S108_TEX_AMP,
           S108_TAU_UNIT, S108_TEX_UNIT,
           [S108_TAU_RES_1612, S108_TAU_RES_1665, S108_TAU_RES_1667, S108_TAU_RES_1720],
           [S108_TEX_RES_1612, S108_TEX_RES_1665, S108_TEX_RES_1667, S108_TEX_RES_1720],
           S108_TAU_LIM, S108_TAU_TICKS, S108_TEX_LIM, S108_TEX_TICKS),
    source(S131_NAME, S131_VRANGE, S131_VTICKS, S131_CENTRE, S131_WIDTH, S131_TAU_AMP, S131_TEX_AMP,
           S131_TAU_UNIT, S131_TEX_UNIT,
           [S131_TAU_RES_1612, S131_TAU_RES_1665, S131_TAU_RES_1667, S131_TAU_RES_1720],
           [S131_TEX_RES_1612, S131_TEX_RES_1665, S131_TEX_RES_1667, S131_TEX_RES_1720],
           S131_TAU_LIM, S131_TAU_TICKS, S131_TEX_LIM, S131_TEX_TICKS),
    source(S158_NAME, S158_VRANGE, S158_VTICKS, S158_CENTRE, S158_WIDTH, S158_TAU_AMP, S158_TEX_AMP,
           S158_TAU_UNIT, S158_TEX_UNIT,
           [S158_TAU_RES_1612, S158_TAU_RES_1665, S158_TAU_RES_1667, S158_TAU_RES_1720],
           [S158_TEX_RES_1612, S158_TEX_RES_1665, S158_TEX_RES_1667, S158_TEX_RES_1720],
           S158_TAU_LIM, S158_TAU_TICKS, S158_TEX_LIM, S158_TEX_TICKS),
    source(S417_NAME, S417_VRANGE, S417_VTICKS, S417_CENTRE, S417_WIDTH, S417_TAU_AMP, S417_TEX_AMP,
           S417_TAU_UNIT, S417_TEX_UNIT,
           [S417_TAU_RES_1612, S417_TAU_RES_1665, S417_TAU_RES_1667, S417_TAU_RES_1720],
           [S417_TEX_RES_1612, S417_TEX_RES_1665, S417_TEX_RES_1667, S417_TEX_RES_1720],
           S417_TAU_LIM, S417_TAU_TICKS, S417_TEX_LIM, S417_TEX_TICKS),
    source(S4C_NAME, S4C_VRANGE, S4C_VTICKS, S4C_CENTRE, S4C_WIDTH, S4C_TAU_AMP, S4C_TEX_AMP,
           S4C_TAU_UNIT, S4C_TEX_UNIT,
           [S4C_TAU_RES_1612, S4C_TAU_RES_1665, S4C_TAU_RES_1667, S4C_TAU_RES_1720],
           [S4C_TEX_RES_1612, S4C_TEX_RES_1665, S4C_TEX_RES_1667, S4C_TEX_RES_1720],
           S4C_TAU_LIM, S4C_TAU_TICKS, S4C_TEX_LIM, S4C_TEX_TICKS),
]

# ---------------- page geometry (pixels) ----------------
W, H = 1207, 1678
BLOCK_X = [(66.3, 283.3, 326.7, 544.0), (714.0, 931.7, 974.3, 1191.0)]
BLOCK_Y = [(37.5, 511.4), (596.4, 1070.7), (1154.8, 1629.4)]
FONT = "DejaVu Sans"


def fx(px):
    return px / W


def fy(py):
    return 1 - py / H


def gaussian(v, amp, centre, width):
    return amp * np.exp(-0.5 * ((v - centre) / width) ** 2)


def label(value):
    return ("−" + str(abs(value))) if value < 0 else str(value)


fig = go.Figure()
axes = {}
annotations = []
shapes = []


def note(text, x, y, size, xanchor="center", yanchor="middle", weight="bold", style="normal"):
    annotations.append(dict(text=text, x=fx(x), y=fy(y), xref="paper", yref="paper",
                            showarrow=False, xanchor=xanchor, yanchor=yanchor,
                            font=dict(family=FONT, size=size, color="black", weight=weight, style=style)))


tick_font = dict(family=FONT, size=12, color="black", weight="bold")

for s, src in enumerate(SOURCES):
    bx = BLOCK_X[s % 2]
    top, bottom = BLOCK_Y[s // 2]
    h = (bottom - top) / 5
    vmin, vmax = src["vrange"]
    vfine = np.linspace(vmin, vmax, 300)
    note(src["name"], (bx[0] + bx[3]) / 2, top - 23.2, 13)

    for c, col in enumerate(src["cols"]):
        x0, x1 = bx[2 * c], bx[2 * c + 1]
        note("Velocity km s<sup>−1</sup>", (x0 + x1) / 2, bottom + 35, 12)
        for r in range(5):
            n = s * 10 + c * 5 + r + 1
            xs = "" if n == 1 else str(n)
            ytop = top + r * h
            ybot = ytop + h
            ticks = col["ticks"][r]
            axes["xaxis" + xs] = dict(
                domain=[fx(x0), fx(x1)], anchor="y" + xs, range=list(src["vrange"]),
                showline=True, linecolor="black", linewidth=1, mirror=True,
                ticks="outside" if r == 4 else "", ticklen=4, tickcolor="black",
                tickvals=src["vticks"], ticktext=[label(t) for t in src["vticks"]],
                showticklabels=(r == 4), tickfont=tick_font,
                showgrid=False, zeroline=False)
            axes["yaxis" + xs] = dict(
                domain=[fy(ybot), fy(ytop)], anchor="x" + xs, range=col["lim"][r],
                showline=True, linecolor="black", linewidth=1, mirror=True,
                ticks="outside", ticklen=4, tickcolor="black", ticklabelstandoff=3,
                tickvals=[float(t.replace("−", "-")) for t in ticks], ticktext=ticks,
                tickfont=tick_font, showgrid=False, zeroline=False)
            xa, ya = "x" + xs, "y" + xs

            if r < 4:
                amps = col["amp"][r]
                res = np.array(col["res"][r]) * col["unit"]
                chan = np.linspace(vmin, vmax, len(res))
                model_chan = sum(gaussian(chan, a, v, w) for a, v, w in zip(amps, src["centre"], src["width"]))
                fig.add_trace(go.Scatter(x=chan, y=model_chan + res, mode="lines",
                                         line=dict(color="#808080", width=1.5),
                                         xaxis=xa, yaxis=ya, showlegend=False))
                total = np.zeros_like(vfine)
                for a, v, w in zip(amps, src["centre"], src["width"]):
                    comp = gaussian(vfine, a, v, w)
                    total += comp
                    fig.add_trace(go.Scatter(x=vfine, y=comp, mode="lines",
                                             line=dict(color="red", width=1.1),
                                             xaxis=xa, yaxis=ya, showlegend=False))
                fig.add_trace(go.Scatter(x=vfine, y=total, mode="lines",
                                         line=dict(color="blue", width=1.2),
                                         xaxis=xa, yaxis=ya, showlegend=False))
                if c == 1:
                    note(f"{FREQS[r]} MHz", x1 - 3, ybot - 9, 12, xanchor="right")
            else:
                for k in range(4):
                    res = np.array(col["res"][k]) * col["unit"]
                    chan = np.linspace(vmin, vmax, len(res))
                    fig.add_trace(go.Scatter(x=chan, y=res, mode="lines",
                                             line=dict(color=RES_COLOURS[k], width=1.0),
                                             xaxis=xa, yaxis=ya, showlegend=False))
                if c == 1:
                    note("Residuals", x1 - 3, ytop + 10, 12, xanchor="right")
                else:
                    # frequency key for the residual curves
                    shapes.append(dict(type="rect", xref="paper", yref="paper",
                                       x0=fx(x0 + 3.7), x1=fx(x0 + 74.4),
                                       y0=fy(ytop + 52.5), y1=fy(ytop + 3.6),
                                       fillcolor="rgba(255,255,255,0.8)",
                                       line=dict(color="#cccccc", width=1), layer="above"))
                    for k, f in enumerate(FREQS):
                        yk = ytop + 10.4 + 12.1 * k
                        shapes.append(dict(type="line", xref="paper", yref="paper",
                                           x0=fx(x0 + 5.5), x1=fx(x0 + 28), y0=fy(yk), y1=fy(yk),
                                           line=dict(color=RES_COLOURS[k], width=1.2), layer="above"))
                        note(f"{f} MHz", x0 + 31.5, yk, 7, xanchor="left")

            if r == 0:
                if c == 0:
                    note("τ", x0 + 4, ytop + 15, 13, xanchor="left", weight="normal", style="italic")
                else:
                    note("T<sub>exp</sub> (K)", x0 + 3, ytop + 17, 12, xanchor="left")

fig.update_layout(
    width=W, height=H, autosize=False,
    margin=dict(l=0, r=0, t=0, b=0),
    paper_bgcolor="white", plot_bgcolor="white",
    showlegend=False,
    font=dict(family=FONT, color="black"),
    annotations=annotations, shapes=shapes,
    **axes)

fig.write_html("out.html")
